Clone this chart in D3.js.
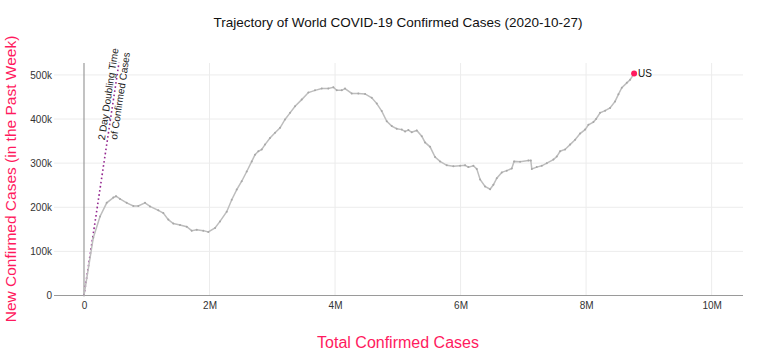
<!DOCTYPE html>
<html>
<head>
<meta charset="utf-8">
<script src="https://cdn.jsdelivr.net/npm/d3@7/dist/d3.min.js"></script>
<style>
  html, body { margin: 0; padding: 0; background: #fff; }
  svg { display: block; font-family: "Liberation Sans", Arial, Helvetica, sans-serif; }
</style>
</head>
<body>
<svg id="chart" width="780" height="351"></svg>
<script>
// ---- data ----
const totalCasesM = [0, 0.148, 0.255, 0.362, 0.467, 0.510, 0.574, 0.680, 0.786, 0.865, 0.972, 1.052, 1.184, 1.264, 1.343, 1.423, 1.530, 1.637, 1.716, 1.796, 1.901, 1.981, 2.088, 2.167, 2.274, 2.354, 2.434, 2.513, 2.593, 2.673, 2.725, 2.778, 2.832, 2.884, 2.964, 3.044, 3.124, 3.203, 3.283, 3.363, 3.469, 3.575, 3.681, 3.788, 3.893, 3.973, 4.027, 4.107, 4.159, 4.266, 4.371, 4.478, 4.585, 4.665, 4.744, 4.824, 4.904, 4.983, 5.063, 5.116, 5.168, 5.222, 5.302, 5.382, 5.434, 5.514, 5.594, 5.673, 5.780, 5.885, 5.992, 6.072, 6.124, 6.204, 6.258, 6.311, 6.390, 6.470, 6.523, 6.577, 6.657, 6.736, 6.816, 6.853, 6.948, 7.081, 7.119, 7.135, 7.214, 7.294, 7.374, 7.479, 7.533, 7.586, 7.665, 7.745, 7.825, 7.904, 7.984, 8.037, 8.116, 8.159, 8.223, 8.303, 8.382, 8.462, 8.515, 8.569, 8.649, 8.701, 8.765];
const newCasesK = [0, 131, 179, 210, 222, 225, 219, 210, 203, 203, 210, 202, 193, 187, 172, 163, 160, 156, 147, 149, 147, 144, 153, 168, 190, 217, 240, 259, 281, 304, 319, 327, 331, 342, 357, 369, 380, 399, 414, 429, 444, 460, 465, 469, 469, 472, 465, 465, 469, 458, 458, 457, 448, 435, 418, 395, 384, 378, 376, 372, 375, 370, 374, 361, 347, 337, 314, 304, 295, 293, 294, 295, 291, 294, 287, 263, 247, 241, 251, 266, 279, 283, 288, 304, 303, 306, 306, 287, 291, 294, 300, 308, 315, 327, 331, 342, 353, 367, 376, 387, 393, 400, 414, 419, 425, 440, 456, 471, 482, 489, 503];
const doublingTotalM = [0, 0.558];
const doublingNewK = [0, 528];
const xTicks = [0, 2e6, 4e6, 6e6, 8e6, 10e6];
const xTickLabels = ["0", "2M", "4M", "6M", "8M", "10M"];
const yTicks = [0, 1e5, 2e5, 3e5, 4e5, 5e5];
const yTickLabels = ["0", "100k", "200k", "300k", "400k", "500k"];
const countryLabel = "US";
const titleText = "Trajectory of World COVID-19 Confirmed Cases (2020-10-27)";
const xTitle = "Total Confirmed Cases";
const yTitle = "New Confirmed Cases (in the Past Week)";
const doublingLines = ["2 Day Doubling Time", "of Confirmed Cases"];

(function () {
const points = totalCasesM.map((t, i) => ({ x: t * 1e6, y: newCasesK[i] * 1e3 }));
const doubling = doublingTotalM.map((t, i) => ({ x: t * 1e6, y: doublingNewK[i] * 1e3 }));

// ---- layout ----
const svg = d3.select("#chart");
const pL = 54, pR = 743, pT = 63, pB = 295.5;
const x = d3.scaleLinear().domain([-0.478e6, 10.5e6]).range([pL, pR]);
const y = d3.scaleLinear().domain([0, 527e3]).range([pB, pT]);
const pink = "#ff1a5e";

// gridlines
svg.append("g").selectAll("line").data(yTicks.filter(d => d > 0)).join("line")
  .attr("x1", pL).attr("x2", pR)
  .attr("y1", d => y(d)).attr("y2", d => y(d))
  .attr("stroke", "#ececec").attr("stroke-width", 1);
svg.append("g").selectAll("line").data(xTicks.filter(d => d > 0)).join("line")
  .attr("y1", pT).attr("y2", pB)
  .attr("x1", d => x(d)).attr("x2", d => x(d))
  .attr("stroke", "#ececec").attr("stroke-width", 1);

// zero lines
svg.append("line").attr("x1", pL).attr("x2", pR).attr("y1", y(0)).attr("y2", y(0))
  .attr("stroke", "#9a9a9a").attr("stroke-width", 1.2);
svg.append("line").attr("x1", x(0)).attr("x2", x(0)).attr("y1", pT).attr("y2", pB)
  .attr("stroke", "#9a9a9a").attr("stroke-width", 1.2);

// axes tick labels via d3 axes
const xAxis = d3.axisBottom(x).tickValues(xTicks).tickFormat((d, i) => xTickLabels[i]).tickSize(0).tickPadding(6);
const gx = svg.append("g").attr("transform", `translate(0,${pB})`).call(xAxis);
gx.select(".domain").remove();
gx.selectAll("text").attr("font-size", 10).attr("fill", "#333").attr("font-family", "Liberation Sans, Arial, sans-serif");

const yAxis = d3.axisLeft(y).tickValues(yTicks).tickFormat((d, i) => yTickLabels[i]).tickSize(0).tickPadding(2);
const gy = svg.append("g").attr("transform", `translate(${pL},0)`).call(yAxis);
gy.select(".domain").remove();
gy.selectAll("text").attr("font-size", 10).attr("fill", "#333").attr("font-family", "Liberation Sans, Arial, sans-serif");

// doubling line
svg.append("path").datum(doubling)
  .attr("d", d3.line().x(d => x(d.x)).y(d => y(d.y)))
  .attr("fill", "none").attr("stroke", "#93278f").attr("stroke-width", 1.6)
  .attr("stroke-dasharray", "1.6,2.6");

// doubling label
const p0 = doubling[0], p1 = doubling[1];
const ang = Math.atan2(y(p1.y) - y(p0.y), x(p1.x) - x(p0.x)) * 180 / Math.PI;
const labY = 95;
const labX = x(0) + (y(0) - labY) / (y(0) - y(p1.y)) * (x(p1.x) - x(0));
const lab = svg.append("text")
  .attr("transform", `translate(${labX},${labY}) rotate(${ang})`)
  .attr("text-anchor", "middle").attr("font-size", 10).attr("fill", "#222");
lab.selectAll("tspan").data(doublingLines).join("tspan")
  .attr("x", 0).attr("y", (d, i) => i === 0 ? -2.5 : 9.5)
  .text(d => d);

// trajectory
svg.append("path").datum(points)
  .attr("d", d3.line().x(d => x(d.x)).y(d => y(d.y)))
  .attr("fill", "none").attr("stroke", "#bdbdbd").attr("stroke-width", 1.5);
svg.append("g").selectAll("circle").data(points).join("circle")
  .attr("cx", d => x(d.x)).attr("cy", d => y(d.y)).attr("r", 1)
  .attr("fill", "#a8a8a8");

// endpoint
const last = points[points.length - 1];
svg.append("circle").attr("cx", x(last.x)).attr("cy", y(last.y)).attr("r", 3).attr("fill", pink);
svg.append("text").attr("x", x(last.x) + 4).attr("y", y(last.y) + 3.5)
  .attr("font-size", 10).attr("fill", "#111").text(countryLabel);

// titles
svg.append("text").attr("x", 398).attr("y", 27).attr("text-anchor", "middle")
  .attr("font-size", 13.5).attr("fill", "#111").text(titleText);
svg.append("text").attr("x", 398).attr("y", 348).attr("text-anchor", "middle")
  .attr("font-size", 16).attr("fill", pink).text(xTitle);
svg.append("text").attr("transform", `translate(16,179) rotate(-90)`).attr("text-anchor", "middle")
  .attr("font-size", 15.5).attr("fill", pink).text(yTitle);
})();
</script>
</body>
</html>
